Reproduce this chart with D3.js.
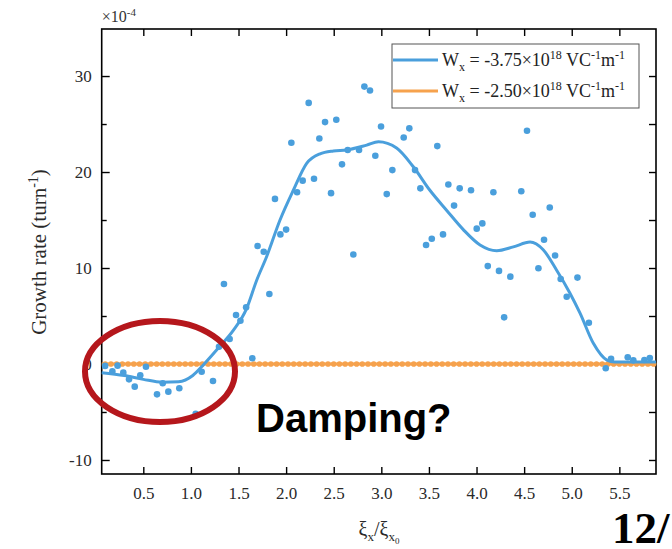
<!DOCTYPE html>
<html>
<head>
<meta charset="utf-8">
<script src="https://cdn.jsdelivr.net/npm/d3@7"></script>
<style>
  body { margin: 0; background: #fff; }
  svg { display: block; }
  text { font-family: "Liberation Serif", "Times New Roman", serif; }
</style>
</head>
<body>
<svg id="chart" width="672" height="549"></svg>
<script>
// ---- data (growth rate in units of 1e-4 turn^-1) ----
const blueX = [0.099, 0.175, 0.23, 0.29, 0.35, 0.41, 0.468, 0.528, 0.644, 0.704,
  0.763, 0.878, 1.05, 1.113, 1.232, 1.295, 1.347, 1.407, 1.474, 1.52,
  1.58, 1.645, 1.70, 1.765, 1.824, 1.883, 1.94, 2.0, 2.055, 2.115,
  2.174, 2.237, 2.293, 2.349, 2.409, 2.472, 2.527, 2.587, 2.647, 2.706,
  2.766, 2.822, 2.881, 2.937, 2.997, 3.057, 3.116, 3.235, 3.294, 3.354,
  3.41, 3.47, 3.53, 3.588, 3.648, 3.704, 3.764, 3.823, 3.942, 4.002,
  4.061, 4.118, 4.177, 4.236, 4.29, 4.355, 4.47, 4.53, 4.59, 4.65,
  4.709, 4.769, 4.825, 4.884, 4.947, 5.06, 5.18, 5.357, 5.413, 5.588,
  5.647, 5.763, 5.82];
const blueRate = [-0.2, -0.77, -0.17, -0.9, -1.6, -2.36, -1.18, -0.28, -3.16, -2.0,
  -2.88, -2.53, -5.2, -0.8, -1.77, 1.8, 8.33, 2.6, 5.1, 4.5,
  5.9, 0.6, 12.3, 11.7, 7.3, 17.2, 13.5, 14.0, 23.05, 17.9,
  19.1, 27.2, 19.3, 23.5, 25.2, 17.8, 25.45, 20.8, 22.3, 11.4,
  22.3, 28.9, 28.5, 21.7, 24.75, 17.7, 20.2, 23.6, 24.55, 20.2,
  18.3, 12.4, 13.05, 22.7, 13.5, 18.7, 16.5, 18.3, 18.1, 14.1,
  14.65, 10.2, 17.9, 9.7, 4.86, 9.1, 18.0, 24.3, 15.55, 9.97,
  12.95, 16.3, 11.3, 8.85, 7.0, 9.0, 4.3, -0.45, 0.55, 0.7,
  0.38, 0.42, 0.62];

// smoothed trend through the blue samples
const fitX = [0.063, 0.3, 0.5, 0.7, 0.87, 1.02, 1.13, 1.3, 1.445, 1.586,
  1.69, 1.796, 1.936, 2.076, 2.216, 2.356, 2.496, 2.636, 2.846, 2.97,
  3.16, 3.336, 3.51, 3.687, 3.861, 4.037, 4.212, 4.387, 4.562, 4.70,
  4.84, 4.98, 5.087, 5.227, 5.37, 5.45, 5.885];
const fitRate = [-0.9, -1.2, -1.6, -1.9, -1.85, -1.2, -0.1, 1.8, 3.5, 5.8,
  8.7, 11.2, 15.0, 18.1, 20.9, 21.9, 22.2, 22.3, 22.8, 23.15,
  22.5, 20.55, 18.1, 16.0, 14.0, 12.4, 11.8, 12.2, 12.7, 11.9,
  9.8, 7.4, 5.3, 2.15, 0.4, 0.2, 0.2];

// second field strength: flat at zero everywhere
const orangeX = [0.10, 0.16, 0.22, 0.28, 0.34, 0.40, 0.46, 0.52, 0.58, 0.64,
  0.70, 0.76, 0.82, 0.88, 0.94, 1.00, 1.06, 1.12, 1.18, 1.24,
  1.30, 1.36, 1.42, 1.48, 1.54, 1.60, 1.66, 1.72, 1.78, 1.84,
  1.90, 1.96, 2.02, 2.08, 2.14, 2.20, 2.26, 2.32, 2.38, 2.44,
  2.50, 2.56, 2.62, 2.68, 2.74, 2.80, 2.86, 2.92, 2.98, 3.04,
  3.10, 3.16, 3.22, 3.28, 3.34, 3.40, 3.46, 3.52, 3.58, 3.64,
  3.70, 3.76, 3.82, 3.88, 3.94, 4.00, 4.06, 4.12, 4.18, 4.24,
  4.30, 4.36, 4.42, 4.48, 4.54, 4.60, 4.66, 4.72, 4.78, 4.84,
  4.90, 4.96, 5.02, 5.08, 5.14, 5.20, 5.26, 5.32, 5.38, 5.44,
  5.50, 5.56, 5.62, 5.68, 5.74, 5.80, 5.86];
const orangeRate = [0, 0, 0, 0, 0, 0, 0, 0, 0, 0,
  0, 0, 0, 0, 0, 0, 0, 0, 0, 0,
  0, 0, 0, 0, 0, 0, 0, 0, 0, 0,
  0, 0, 0, 0, 0, 0, 0, 0, 0, 0,
  0, 0, 0, 0, 0, 0, 0, 0, 0, 0,
  0, 0, 0, 0, 0, 0, 0, 0, 0, 0,
  0, 0, 0, 0, 0, 0, 0, 0, 0, 0,
  0, 0, 0, 0, 0, 0, 0, 0, 0, 0,
  0, 0, 0, 0, 0, 0, 0, 0, 0, 0,
  0, 0, 0, 0, 0, 0, 0];
const orangeLineX = [0.063, 5.885];
const orangeLineRate = [0, 0];

const xTicks = [0.5, 1.0, 1.5, 2.0, 2.5, 3.0, 3.5, 4.0, 4.5, 5.0, 5.5];
const yTicks = [-10, 0, 10, 20, 30];
const yMinorTicks = [-5, 5, 15, 25];

// ---- layout ----
const BLUE = "#4a9fdc", ORANGE = "#f6a24d";
const L = 101.7, R = 656, T = 29, B = 474;
const svg = d3.select("#chart");

const x = d3.scaleLinear().domain([0.063, 5.885]).range([L, R]);
const y = d3.scaleLinear().domain([-11.46, 34.9]).range([B, T]);

function styleAxis(g) {
  g.select(".domain").remove();
  g.selectAll(".tick line").attr("stroke", "#000").attr("stroke-width", 1.4);
  g.selectAll(".tick text").attr("fill", "#2a2a2a")
    .style("font-family", '"Liberation Serif","Times New Roman",serif').style("font-size", "17px");
}

// bottom / top
svg.append("g").attr("transform", `translate(0,${B})`)
  .call(d3.axisBottom(x).tickValues(xTicks).tickFormat(d3.format(".1f"))
    .tickSizeInner(-7).tickSizeOuter(0).tickPadding(13))
  .call(styleAxis);
svg.append("g").attr("transform", `translate(0,${T})`)
  .call(d3.axisTop(x).tickValues(xTicks).tickFormat("")
    .tickSizeInner(-7).tickSizeOuter(0))
  .call(styleAxis);

// left / right (plain hyphen for negatives)
svg.append("g").attr("transform", `translate(${L},0)`)
  .call(d3.axisLeft(y).tickValues(yTicks).tickFormat(d => String(d))
    .tickSizeInner(-8).tickSizeOuter(0).tickPadding(10))
  .call(styleAxis);
svg.append("g").attr("transform", `translate(${L},0)`)
  .call(d3.axisLeft(y).tickValues(yMinorTicks).tickFormat("")
    .tickSizeInner(-5).tickSizeOuter(0))
  .call(styleAxis);
svg.append("g").attr("transform", `translate(${R},0)`)
  .call(d3.axisRight(y).tickValues(yTicks.concat(yMinorTicks)).tickFormat("")
    .tickSizeInner(-7).tickSizeOuter(0))
  .call(styleAxis);

// frame
svg.append("rect").attr("x", L).attr("y", T).attr("width", R - L).attr("height", B - T)
  .attr("fill", "none").attr("stroke", "#000").attr("stroke-width", 1.6);

// exponent marker
const ex = svg.append("text").attr("x", L).attr("y", 22).attr("fill", "#333").style("font-size", "16px");
ex.append("tspan").text("×10");
ex.append("tspan").attr("dy", -6).style("font-size", "11px").text("-4");

// axis titles
const yl = svg.append("text").attr("transform", "translate(46,252) rotate(-90)")
  .attr("text-anchor", "middle").attr("fill", "#2a2a2a").style("font-size", "21px");
yl.append("tspan").text("Growth rate (turn");
yl.append("tspan").attr("dy", -8).style("font-size", "14px").text("-1");
yl.append("tspan").attr("dy", 8).text(")");

const xl = svg.append("text").attr("x", 379).attr("y", 536)
  .attr("text-anchor", "middle").attr("fill", "#2a2a2a").style("font-size", "20px");
xl.append("tspan").text("ξ");
xl.append("tspan").attr("dy", 5).style("font-size", "13px").text("x");
xl.append("tspan").attr("dy", -5).text("/ξ");
xl.append("tspan").attr("dy", 5).style("font-size", "13px").text("x");
xl.append("tspan").attr("dy", 3).style("font-size", "9px").text("0");

// orange series: line + beads
const orangeLine = d3.line().x(d => x(d[0])).y(d => y(d[1]));
svg.append("path").datum(d3.zip(orangeLineX, orangeLineRate))
  .attr("d", orangeLine).attr("fill", "none").attr("stroke", ORANGE).attr("stroke-width", 3);
svg.append("g").selectAll("circle").data(d3.zip(orangeX, orangeRate)).join("circle")
  .attr("cx", d => x(d[0])).attr("cy", d => y(d[1])).attr("r", 2.8).attr("fill", ORANGE);

// blue samples
svg.append("g").selectAll("circle").data(d3.zip(blueX, blueRate)).join("circle")
  .attr("cx", d => x(d[0])).attr("cy", d => y(d[1])).attr("r", 3.3).attr("fill", BLUE);

// blue fitted curve
const fitLine = d3.line().x(d => x(d[0])).y(d => y(d[1])).curve(d3.curveMonotoneX);
svg.append("path").datum(d3.zip(fitX, fitRate))
  .attr("d", fitLine).attr("fill", "none").attr("stroke", BLUE).attr("stroke-width", 3);

// legend
const lg = svg.append("g");
lg.append("rect").attr("x", 392).attr("y", 44).attr("width", 247).attr("height", 64)
  .attr("fill", "#fff").attr("stroke", "#555").attr("stroke-width", 1);
const legendItems = [
  { color: BLUE, value: "-3.75" },
  { color: ORANGE, value: "-2.50" }
];
legendItems.forEach((it, i) => {
  const cy = 60 + i * 31;
  lg.append("line").attr("x1", 393).attr("x2", 438).attr("y1", cy).attr("y2", cy)
    .attr("stroke", it.color).attr("stroke-width", 3);
  const t = lg.append("text").attr("x", 442).attr("y", cy + 6).attr("fill", "#222").style("font-size", "18px");
  t.append("tspan").text("W");
  t.append("tspan").attr("dy", 5).style("font-size", "12px").text("x");
  t.append("tspan").attr("dy", -5).text(` = ${it.value}×10`);
  t.append("tspan").attr("dy", -7).style("font-size", "12px").text("18");
  t.append("tspan").attr("dy", 7).text(" VC");
  t.append("tspan").attr("dy", -7).style("font-size", "12px").text("-1");
  t.append("tspan").attr("dy", 7).text("m");
  t.append("tspan").attr("dy", -7).style("font-size", "12px").text("-1");
});

// annotation: ellipse around the negative-growth region
svg.append("ellipse").attr("cx", 160).attr("cy", 371.5).attr("rx", 75).attr("ry", 50.5)
  .attr("fill", "none").attr("stroke", "#b5171c").attr("stroke-width", 6);
svg.append("text").attr("x", 256).attr("y", 432).attr("fill", "#000")
  .style("font-family", '"Liberation Sans", Arial, sans-serif').style("font-weight", "bold")
  .style("font-size", "40px").text("Damping?");

// page number
svg.append("text").attr("x", 612).attr("y", 543).attr("fill", "#000")
  .style("font-weight", "bold").style("font-size", "45px").text("12/");
</script>
</body>
</html>
